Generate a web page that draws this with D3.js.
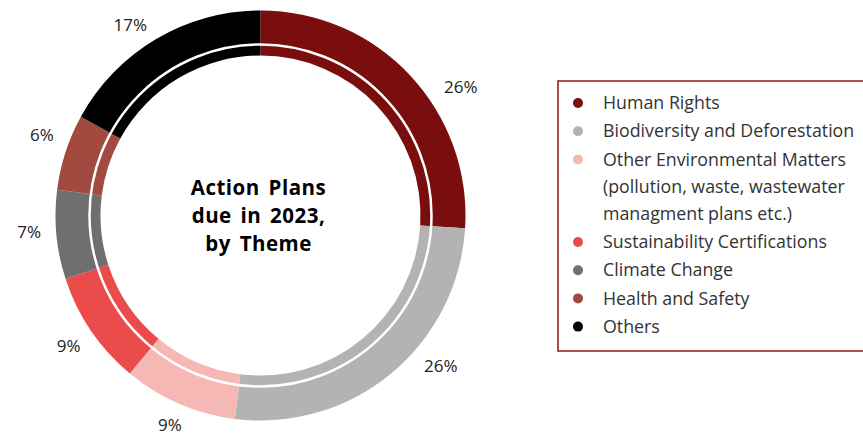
<!DOCTYPE html>
<html>
<head>
<meta charset="utf-8">
<script src="https://cdn.jsdelivr.net/npm/d3@7"></script>
<style>
  body { margin: 0; background: #fff; }
  text { font-family: "Open Sans", "Noto Sans", sans-serif; }
</style>
</head>
<body>
<div id="chart"></div>
<script>
// data
var themes = ["Human Rights", "Biodiversity and Deforestation", "Other Environmental Matters", "Sustainability Certifications", "Climate Change", "Health and Safety", "Others"];
var shares = [26, 26, 9, 9, 7, 6, 17];
var colors = ["#7a0d0d", "#b3b3b3", "#f6b8b4", "#eb4b4b", "#6f6f6f", "#a24a3f", "#000000"];
var legendLines = [["Human Rights"], ["Biodiversity and Deforestation"], ["Other Environmental Matters", "(pollution, waste, wastewater", "managment plans etc.)"], ["Sustainability Certifications"], ["Climate Change"], ["Health and Safety"], ["Others"]];
var titleLines = ["Action Plans", "due in 2023,", "by Theme"];

var data = themes.map(function(t, i) { return {theme: t, value: shares[i], color: colors[i]}; });

var svg = d3.select("#chart").append("svg")
    .attr("width", 863)
    .attr("height", 435);

var cx = 260.5, cy = 215.5,
    outerR = 205, innerR = 160;

var g = svg.append("g").attr("transform", "translate(" + cx + "," + cy + ")");

var pie = d3.pie().sort(null).value(function(d) { return d.value; });
var arc = d3.arc().innerRadius(innerR).outerRadius(outerR);
var arcs = pie(data);

g.selectAll(".slice")
  .data(arcs)
  .enter()
  .append("path")
  .attr("class", "slice")
  .attr("d", arc)
  .style("fill", function(d) { return d.data.color; });

// thin white ring splitting the band
g.append("circle")
  .attr("r", 171)
  .style("fill", "none")
  .style("stroke", "#fff")
  .style("stroke-width", 2.5);

// percentage labels, nudged (degrees, radius) like in the original
var nudge = {0: [10.5, 6], 1: [-10.5, 3], 2: [0, -4], 4: [1.2, 0], 5: [2.3, 1], 6: [-3.7, -1]};
function labelPos(d, i) {
    var n = nudge[i] || [0, 0];
    var a = (d.startAngle + d.endAngle) / 2 + n[0] * Math.PI / 180;
    return [Math.sin(a) * (232 + n[1]), -Math.cos(a) * (232 + n[1])];
}
g.selectAll(".pct")
  .data(arcs)
  .enter()
  .append("text")
  .attr("class", "pct")
  .attr("x", function(d, i) { return labelPos(d, i)[0]; })
  .attr("y", function(d, i) { return labelPos(d, i)[1]; })
  .attr("text-anchor", "middle")
  .attr("dy", "0.35em")
  .style("font-size", "17px")
  .style("fill", "#222")
  .text(function(d) { return d.data.value + "%"; });

// centre title
g.selectAll(".title")
  .data(titleLines)
  .enter()
  .append("text")
  .attr("class", "title")
  .attr("x", -2)
  .attr("y", function(d, i) { return -28 + i * 28; })
  .attr("dy", "0.35em")
  .attr("text-anchor", "middle")
  .style("font-size", "20.5px")
  .style("font-weight", "700")
  .style("letter-spacing", "0.5px")
  .style("word-spacing", "3px")
  .style("fill", "#000")
  .text(function(d) { return d; });

// legend
var legend = svg.append("g").attr("transform", "translate(558,81)");
legend.append("rect")
  .attr("width", 320)
  .attr("height", 270)
  .style("fill", "#fff")
  .style("stroke", "#8b1a1a")
  .style("stroke-width", 1.5);

var rowH = 28.2, lineH = 27.2, y = 22;
legendLines.forEach(function(lines, i) {
    legend.append("circle")
      .attr("cx", 20)
      .attr("cy", y)
      .attr("r", 5)
      .style("fill", colors[i]);
    lines.forEach(function(line, j) {
        legend.append("text")
          .attr("x", 45)
          .attr("y", y + j * lineH)
          .attr("dy", "0.35em")
          .style("font-size", "17.8px")
          .style("fill", "#333")
          .text(line);
    });
    y += (lines.length - 1) * lineH + rowH;
});
</script>
</body>
</html>
